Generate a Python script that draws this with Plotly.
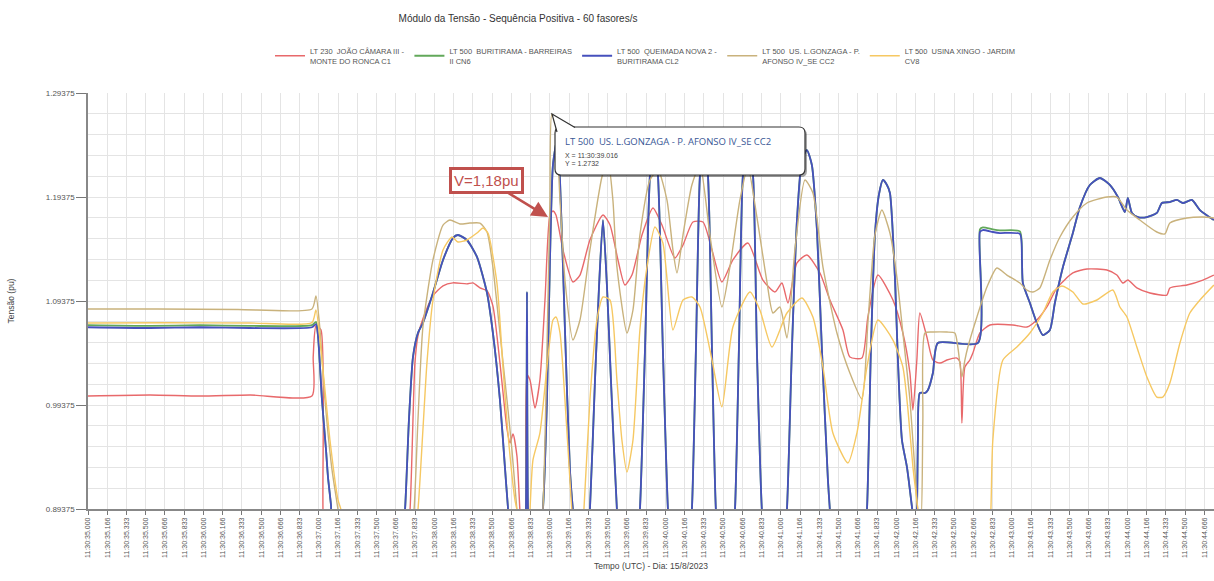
import plotly.graph_objects as go

TITLE = "Módulo da Tensão - Sequência Positiva - 60 fasores/s"
X_TITLE = "Tempo (UTC) - Dia: 15/8/2023"
Y_TITLE = "Tensão (pu)"

names = [
    "LT 230  JOÃO CÂMARA III -<br>MONTE DO RONCA C1",
    "LT 500  BURITIRAMA - BARREIRAS<br>II CN6",
    "LT 500  QUEIMADA NOVA 2 -<br>BURITIRAMA CL2",
    "LT 500  US. L.GONZAGA - P.<br>AFONSO IV_SE CC2",
    "LT 500  USINA XINGO - JARDIM<br>CV8",
]
colors = ["#e8696b", "#62a85a", "#4650bd", "#c9b27c", "#f6c862"]

# time axis: seconds after 11:30:00 (UTC)
t_red = [35.000, 35.537, 35.970, 36.403, 36.939, 36.950, 36.974, 37.017, 37.035, 37.060,
         37.745, 37.788, 37.831, 37.857, 37.900, 37.987, 38.074, 38.160, 38.281, 38.333, 38.394,
         38.455, 38.506, 38.567, 38.628, 38.654, 38.680, 38.714, 38.740, 38.758,
         38.775, 38.792, 38.801, 38.827, 38.870, 38.913, 38.957, 39.000, 39.026, 39.052, 39.113,
         39.199, 39.260, 39.346, 39.459, 39.520, 39.589, 39.649, 39.710, 39.797, 39.892, 39.970,
         40.082, 40.152, 40.238, 40.325, 40.403, 40.489, 40.584, 40.714, 40.844, 40.948, 41.009,
         41.061, 41.139, 41.225, 41.338, 41.424, 41.537, 41.597, 41.701, 41.753, 41.840, 41.970,
         42.056, 42.117, 42.143, 42.177, 42.203, 42.264, 42.316, 42.377, 42.437, 42.524, 42.550,
         42.567, 42.593, 42.636, 42.662, 42.723, 42.810, 43.009, 43.130, 43.216, 43.303, 43.390,
         43.528, 43.650, 43.823, 43.909, 43.961, 44.004, 44.082, 44.195, 44.342, 44.368, 44.515,
         44.654, 44.749]
v_red = [1.0024, 1.0034, 1.0024, 1.0034, 1.0024, 1.0400, 1.0697, 1.0660, 0.8920, 0.8450,
         0.8450, 0.8920, 1.0343, 1.0603, 1.0766, 1.0987, 1.1083, 1.1112, 1.1102, 1.1112, 1.1064,
         1.1035, 1.0891, 1.0343, 0.9707, 0.9573, 0.9660, 0.9449, 0.8920, 0.8640,
         0.8640, 0.8920, 1.0226, 1.0178, 0.9909, 1.0178, 1.0947, 1.1764, 1.1803, 1.1764, 1.1428,
         1.1120, 1.1187, 1.1524, 1.1764, 1.1668, 1.1332, 1.1091, 1.1187, 1.1572, 1.1832, 1.1668,
         1.1351, 1.1476, 1.1697, 1.1697, 1.1428, 1.1120, 1.1332, 1.1495, 1.1139, 1.1024, 1.1110,
         1.0918, 1.1303, 1.1380, 1.1207, 1.0947, 1.0659, 1.0399, 1.0389, 1.0784, 1.1187, 1.0947,
         1.0630, 1.0245, 0.9889, 1.0370, 1.0822, 1.0591, 1.0370, 1.0341, 1.0370, 1.0389, 1.0350,
         0.9764, 1.0303, 1.0370, 1.0437, 1.0630, 1.0707, 1.0707, 1.0687, 1.0755, 1.0880, 1.1063,
         1.1207, 1.1245, 1.1236, 1.1187, 1.1110, 1.1139, 1.1063, 1.1014, 1.0995, 1.1063, 1.1091,
         1.1139, 1.1187]

t_blue = [35.000, 35.537, 35.970, 36.403, 36.939, 36.974, 36.991, 37.026, 37.061, 37.078, 37.104, 37.130,
          37.719, 37.745, 37.779, 37.814, 37.857, 37.900, 37.987, 38.074, 38.160, 38.203, 38.281, 38.368,
          38.455, 38.506, 38.567, 38.610, 38.636, 38.662,
          38.775, 38.792, 38.801, 38.810, 38.827,
          38.913, 38.939, 38.974, 39.000, 39.026, 39.061, 39.087, 39.130, 39.173, 39.199, 39.242,
          39.312, 39.346, 39.390, 39.424, 39.459, 39.494, 39.528, 39.580, 39.615,
          39.745, 39.779, 39.823, 39.866, 39.900, 39.935, 39.978, 40.022, 40.056,
          40.195, 40.229, 40.264, 40.299, 40.333, 40.368, 40.403, 40.437, 40.472,
          40.567, 40.602, 40.636, 40.671, 40.714, 40.758, 40.792, 40.835, 40.870,
          41.017, 41.052, 41.095, 41.139, 41.182, 41.225, 41.268, 41.312, 41.355, 41.407, 41.424, 41.459,
          41.710, 41.745, 41.779, 41.814, 41.848, 41.883, 41.918, 41.944, 41.987, 42.013, 42.048, 42.091,
          42.117, 42.143, 42.160, 42.177, 42.186, 42.203, 42.247, 42.273, 42.316, 42.359, 42.706, 42.723,
          42.749, 42.835, 42.896, 43.069, 43.087, 43.095, 43.156, 43.216, 43.268, 43.329, 43.372, 43.442,
          43.528, 43.589, 43.675, 43.762, 43.848, 43.918, 43.978, 44.004, 44.039, 44.091, 44.169, 44.255,
          44.299, 44.368, 44.429, 44.481, 44.558, 44.628, 44.749]
v_blue = [1.0685, 1.0678, 1.0685, 1.0678, 1.0685, 1.0716, 1.0611, 0.9986, 0.9505, 0.9245, 0.8976, 0.8640,
          0.8640, 0.8928, 0.9793, 1.0399, 1.0630, 1.0726, 1.1014, 1.1332, 1.1543, 1.1572, 1.1524, 1.1361,
          1.1014, 1.0630, 0.9986, 0.9342, 0.8957, 0.8640,
          0.8640, 0.8928, 1.1024, 0.8928, 0.8640,
          0.8640, 0.8928, 0.9986, 1.1332, 1.2245, 1.2486, 1.2101, 1.0659, 0.9313, 0.8928, 0.8450,
          0.8450, 0.8928, 1.0178, 1.1053, 1.1716, 1.1072, 1.0178, 0.8928, 0.8450,
          0.8450, 0.8928, 1.0466, 1.2149, 1.2486, 1.2149, 1.0466, 0.8928, 0.8450,
          0.8450, 0.8928, 1.0466, 1.2149, 1.2486, 1.2149, 1.0466, 0.8928, 0.8450,
          0.8450, 0.8928, 1.0466, 1.2149, 1.2486, 1.2149, 1.0466, 0.8928, 0.8450,
          0.8450, 0.8928, 1.0466, 1.1716, 1.2293, 1.2389, 1.2245, 1.1620, 1.0466, 0.9216, 0.8928, 0.8450,
          0.8450, 0.8928, 1.0466, 1.1572, 1.1957, 1.2101, 1.2053, 1.1976, 1.1168, 1.0370, 0.9601, 0.9342,
          0.9120, 0.8880, 0.8740, 0.8928, 0.9601, 1.0053, 1.0053, 1.0082, 1.0245, 1.0534, 1.0534, 1.1601,
          1.1620, 1.1601, 1.1591, 1.1582, 1.1332, 1.1110, 1.0918, 1.0726, 1.0610, 1.0659, 1.0918, 1.1264,
          1.1591, 1.1841, 1.2053, 1.2120, 1.2053, 1.1937, 1.1793, 1.1928, 1.1784, 1.1745, 1.1745, 1.1784,
          1.1880, 1.1889, 1.1909, 1.1880, 1.1909, 1.1812, 1.1716]

t_green = t_blue
v_green = [1.0705, 1.0698, 1.0705, 1.0698, 1.0705, 1.0736, 1.0611, 0.9986, 0.9505, 0.9245, 0.8976, 0.8640,
           0.8640, 0.8928, 0.9793, 1.0399, 1.0630, 1.0726, 1.1014, 1.1332, 1.1543, 1.1572, 1.1524, 1.1361,
           1.1014, 1.0630, 0.9986, 0.9342, 0.8957, 0.8640,
           0.8640, 0.8928, 1.1024, 0.8928, 0.8640,
           0.8640, 0.8928, 0.9986, 1.1332, 1.2245, 1.2486, 1.2101, 1.0659, 0.9313, 0.8928, 0.8450,
           0.8450, 0.8928, 1.0178, 1.1053, 1.1716, 1.1072, 1.0178, 0.8928, 0.8450,
           0.8450, 0.8928, 1.0466, 1.2149, 1.2486, 1.2149, 1.0466, 0.8928, 0.8450,
           0.8450, 0.8928, 1.0466, 1.2149, 1.2486, 1.2149, 1.0466, 0.8928, 0.8450,
           0.8450, 0.8928, 1.0466, 1.2149, 1.2486, 1.2149, 1.0466, 0.8928, 0.8450,
           0.8450, 0.8928, 1.0466, 1.1716, 1.2293, 1.2389, 1.2245, 1.1620, 1.0466, 0.9216, 0.8928, 0.8450,
           0.8450, 0.8928, 1.0466, 1.1572, 1.1957, 1.2101, 1.2053, 1.1976, 1.1168, 1.0370, 0.9601, 0.9342,
           0.9120, 0.8880, 0.8740, 0.8928, 0.9601, 1.0053, 1.0053, 1.0082, 1.0245, 1.0534, 1.0534, 1.1626,
           1.1645, 1.1626, 1.1616, 1.1607, 1.1332, 1.1110, 1.0918, 1.0726, 1.0610, 1.0659, 1.0918, 1.1264,
           1.1591, 1.1841, 1.2053, 1.2120, 1.2053, 1.1937, 1.1793, 1.1928, 1.1784, 1.1745, 1.1745, 1.1784,
           1.1880, 1.1889, 1.1909, 1.1880, 1.1909, 1.1812, 1.1716]

t_tan = [35.000, 35.600, 36.300, 36.939, 36.974, 37.009, 37.052, 37.113, 37.165, 37.191,
         37.788, 37.823, 37.857, 37.900, 37.987, 38.074, 38.134, 38.221, 38.307, 38.394, 38.455,
         38.506, 38.567, 38.628, 38.671, 38.714, 38.740,
         38.913, 38.939, 38.974, 39.000, 39.016, 39.043, 39.087, 39.130, 39.199, 39.260, 39.346,
         39.450, 39.502, 39.545, 39.580, 39.667, 39.719, 39.779, 39.866, 39.935, 40.013, 40.065,
         40.100, 40.152, 40.229, 40.299, 40.385, 40.489, 40.558, 40.645, 40.714, 40.792, 40.879,
         40.931, 40.991, 41.052, 41.121, 41.208, 41.277, 41.364, 41.485, 41.597, 41.701, 41.753,
         41.814, 41.874, 41.944, 42.004, 42.056, 42.117, 42.160, 42.186, 42.212, 42.229, 42.247,
         42.316, 42.437, 42.506, 42.532, 42.567, 42.593, 42.619, 42.697, 42.784, 42.870, 42.957,
         43.069, 43.130, 43.182, 43.242, 43.329, 43.416, 43.528, 43.650, 43.823, 43.909, 43.996,
         44.108, 44.255, 44.325, 44.368, 44.515, 44.654, 44.749]
v_tan = [1.0861, 1.0861, 1.0856, 1.0861, 1.0986, 1.0659, 0.9986, 0.9313, 0.8928, 0.8640,
         0.8640, 0.8928, 0.9793, 1.0688, 1.1332, 1.1668, 1.1716, 1.1678, 1.1687, 1.1687, 1.1601,
         1.1264, 1.0630, 0.9986, 0.9505, 0.8928, 0.8640,
         0.8640, 0.8928, 1.0466, 1.1909, 1.2732, 1.2697, 1.1909, 1.1139, 1.0562, 1.0755, 1.1428,
         1.2130, 1.2293, 1.1909, 1.1264, 1.0630, 1.0851, 1.1572, 1.2101, 1.2197, 1.1909, 1.1428,
         1.1207, 1.1572, 1.2053, 1.2245, 1.1572, 1.0880, 1.1264, 1.1909, 1.2226, 1.1745, 1.1120,
         1.0822, 1.0880, 1.0582, 1.1428, 1.2101, 1.1976, 1.1264, 1.0630, 1.0245, 0.9995, 1.0726,
         1.1572, 1.1812, 1.1591, 1.1168, 1.0630, 0.9986, 0.9313, 0.8928, 0.8830, 0.9793, 1.0630,
         1.0639, 1.0639, 1.0630, 1.0495, 1.0207, 1.0370, 1.0495, 1.0784, 1.1072, 1.1255, 1.1187,
         1.1110, 1.1043, 1.1024, 1.1063, 1.1332, 1.1553, 1.1745, 1.1880, 1.1937, 1.1937, 1.1812,
         1.1716, 1.1601, 1.1582, 1.1687, 1.1735, 1.1745, 1.1735]

t_yellow = [35.000, 35.700, 36.400, 36.939, 36.974, 37.026, 37.095, 37.165, 37.191, 37.217,
            37.823, 37.857, 37.900, 37.935, 37.987, 38.074, 38.152, 38.203, 38.281, 38.368, 38.420,
            38.463, 38.541, 38.593, 38.636, 38.697, 38.714, 38.732,
            38.810, 38.827, 38.853, 38.913, 38.974, 39.026, 39.052, 39.087, 39.130, 39.173, 39.190,
            39.225, 39.260, 39.294, 39.346, 39.407, 39.459, 39.520, 39.580, 39.623, 39.667, 39.719,
            39.779, 39.840, 39.909, 39.978, 40.065, 40.152, 40.229, 40.299, 40.403, 40.489, 40.584,
            40.732, 40.818, 40.922, 41.052, 41.182, 41.277, 41.364, 41.450, 41.580, 41.658, 41.745,
            41.840, 41.970, 42.056, 42.100, 42.143, 42.186, 42.221,
            42.792, 42.818, 42.835, 42.922, 43.043, 43.156, 43.268, 43.355, 43.433, 43.528, 43.615,
            43.736, 43.874, 43.935, 43.996, 44.082, 44.169, 44.255, 44.307, 44.368, 44.455, 44.541,
            44.628, 44.749]
v_yellow = [1.0726, 1.0729, 1.0726, 1.0729, 1.0851, 1.0370, 0.9601, 0.9024, 0.8928, 0.8640,
            0.8640, 0.8928, 0.9697, 1.0343, 1.0947, 1.1428, 1.1553, 1.1505, 1.1524, 1.1591, 1.1639,
            1.1591, 1.1110, 1.0303, 0.9668, 0.9024, 0.8928, 0.8640,
            0.8640, 0.8928, 0.9409, 0.9668, 1.0303, 1.0755, 1.0784, 1.0630, 0.9986, 0.9216, 0.8928,
            0.8640, 0.8450, 0.8928, 0.9986, 1.0755, 1.0976, 1.0947, 1.0178, 0.9601, 0.9293, 0.9601,
            1.0659, 1.1264, 1.1649, 1.1495, 1.0659, 1.0947, 1.0976, 1.0880, 1.0370, 0.9920, 1.0687,
            1.1024, 1.0851, 1.0495, 1.0822, 1.0966, 1.0784, 1.0303, 0.9668, 0.9380, 0.9668, 1.0303,
            1.0755, 1.0562, 1.0303, 0.9890, 0.9342, 0.8928, 0.8450,
            0.8450, 0.8928, 0.9601, 1.0370, 1.0495, 1.0630, 1.0822, 1.1024, 1.1082, 1.1024, 1.0909,
            1.0947, 1.1043, 1.0880, 1.0784, 1.0495, 1.0207, 1.0014, 1.0014, 1.0149, 1.0534, 1.0822,
            1.0947, 1.1091]

# axis ticks
frac_labels = ["000", "166", "333", "500", "666", "833"]
x_tick_vals = [35 + k / 6 for k in range(59)]
x_tick_labels = [f"11:30:{35 + k // 6}.{frac_labels[k % 6]}" for k in range(59)]
y_tick_vals = [0.89375, 0.99375, 1.09375, 1.19375, 1.29375]
y_tick_labels = ["0.89375", "0.99375", "1.09375", "1.19375", "1.29375"]
y_grid_vals = [0.89375 + 0.02 * k for k in range(21)]

# callouts
peak_label = "V=1,18pu"
peak_point = (38.983, 1.1745)
tip_series = "LT 500  US. L.GONZAGA - P. AFONSO IV_SE CC2"
tip_x_text = "X = 11:30:39.016"
tip_y_text = "Y = 1.2732"

NARROW = "Liberation Sans Narrow, Arial Narrow, Liberation Sans, Arial, sans-serif"
SANS = "Liberation Sans, Arial, sans-serif"

series = [(t_red, v_red), (t_green, v_green), (t_blue, v_blue), (t_tan, v_tan), (t_yellow, v_yellow)]
widths = [1.4, 1.8, 1.8, 1.4, 1.4]

fig = go.Figure()
for (tx, vy), nm, col, w in zip(series, names, colors, widths):
    assert len(tx) == len(vy)
    fig.add_trace(go.Scatter(x=tx, y=vy, mode="lines", name=nm,
                             line=dict(color=col, width=w, shape="spline", smoothing=0.6)))

# pixel -> paper helpers for callout decorations
PL, PR, PT, PB = 88, 1214, 93, 509
def X(p):
    return (p - PL) / (PR - PL)
def Y(p):
    return (PB - p) / (PB - PT)

def rrect(x0, y0, x1, y1, r):
    return (f"M {X(x0 + r)},{Y(y0)} L {X(x1 - r)},{Y(y0)} Q {X(x1)},{Y(y0)} {X(x1)},{Y(y0 + r)} "
            f"L {X(x1)},{Y(y1 - r)} Q {X(x1)},{Y(y1)} {X(x1 - r)},{Y(y1)} "
            f"L {X(x0 + r)},{Y(y1)} Q {X(x0)},{Y(y1)} {X(x0)},{Y(y1 - r)} "
            f"L {X(x0)},{Y(y0 + r)} Q {X(x0)},{Y(y0)} {X(x0 + r)},{Y(y0)} Z")

shapes = [
    dict(type="path", xref="paper", yref="paper", path=rrect(557, 129, 807, 177, 6),
         fillcolor="rgba(0,0,0,0.35)", line=dict(width=0), layer="above"),
    dict(type="path", xref="paper", yref="paper", path=rrect(555, 127, 805, 175, 6),
         fillcolor="white", line=dict(color="#333333", width=1.2), layer="above"),
    dict(type="path", xref="paper", yref="paper",
         path=f"M {X(557)},{Y(132)} L {X(552)},{Y(114)} L {X(575)},{Y(127.6)}",
         fillcolor="white", line=dict(color="#333333", width=1.2), layer="above"),
]

annotations = [
    dict(x=peak_point[0], y=peak_point[1], xref="x", yref="y", text=peak_label,
         showarrow=True, ax=-61, ay=-37, axref="pixel", ayref="pixel",
         arrowhead=2, arrowsize=1.3, arrowwidth=2.5, arrowcolor="#c0504d",
         font=dict(family=SANS, size=15, color="#c0504d"),
         bgcolor="white", bordercolor="#c0504d", borderwidth=3, borderpad=2),
    dict(x=X(563), y=Y(141), xref="paper", yref="paper", text=tip_series, showarrow=False,
         xanchor="left", yanchor="middle", font=dict(family="Open Sans, sans-serif", size=9.5, color="#3a5896")),
    dict(x=X(563), y=Y(155), xref="paper", yref="paper", text=tip_x_text, showarrow=False,
         xanchor="left", yanchor="middle", font=dict(family=NARROW, size=7, color="#444444")),
    dict(x=X(563), y=Y(164), xref="paper", yref="paper", text=tip_y_text, showarrow=False,
         xanchor="left", yanchor="middle", font=dict(family=NARROW, size=7, color="#444444")),
]

fig.update_layout(
    width=1214, height=581,
    margin=dict(l=PL, r=1214 - PR, t=PT, b=581 - PB, autoexpand=False),
    paper_bgcolor="white", plot_bgcolor="white",
    title=dict(text=TITLE, x=518 / 1214, xref="container", xanchor="center",
               y=1 - 18 / 581, yref="container", yanchor="middle",
               font=dict(family=NARROW, size=10, color="#333333")),
    showlegend=True,
    legend=dict(orientation="h", x=X(270), y=Y(56), xanchor="left", yanchor="middle",
                font=dict(family=NARROW, size=7.5, color="#555555"), itemwidth=30,
                bgcolor="rgba(0,0,0,0)", valign="middle"),
    shapes=shapes,
    annotations=annotations,
    hovermode=False,
)

fig.update_xaxes(
    range=[35, 44.75], tickmode="array", tickvals=x_tick_vals, ticktext=x_tick_labels,
    tickangle=-90, ticks="outside", ticklen=4, tickcolor="#777777",
    tickfont=dict(family=NARROW, size=7, color="#555555"),
    showgrid=True, gridcolor="#e4e4e4", gridwidth=1,
    showline=True, linecolor="#888888", linewidth=1.5, zeroline=False,
    title=dict(text=X_TITLE, standoff=6, font=dict(family=NARROW, size=8.5, color="#444444")),
)
fig.update_yaxes(
    range=[0.89375, 1.29375], tickmode="array", tickvals=y_tick_vals, ticktext=y_tick_labels,
    ticks="outside", ticklen=10, tickcolor="#777777",
    tickfont=dict(family=NARROW, size=8, color="#555555"),
    showgrid=True, gridcolor="#e4e4e4", gridwidth=1,
    minor=dict(tickvals=y_grid_vals, showgrid=True, gridcolor="#e4e4e4", ticks=""),
    showline=True, linecolor="#888888", linewidth=1.5, zeroline=False,
    title=dict(text=Y_TITLE, standoff=30, font=dict(family=NARROW, size=8.5, color="#444444")),
)

fig.write_html("out.html", config={"displayModeBar": False},
               post_script="document.body.style.margin='0';")
